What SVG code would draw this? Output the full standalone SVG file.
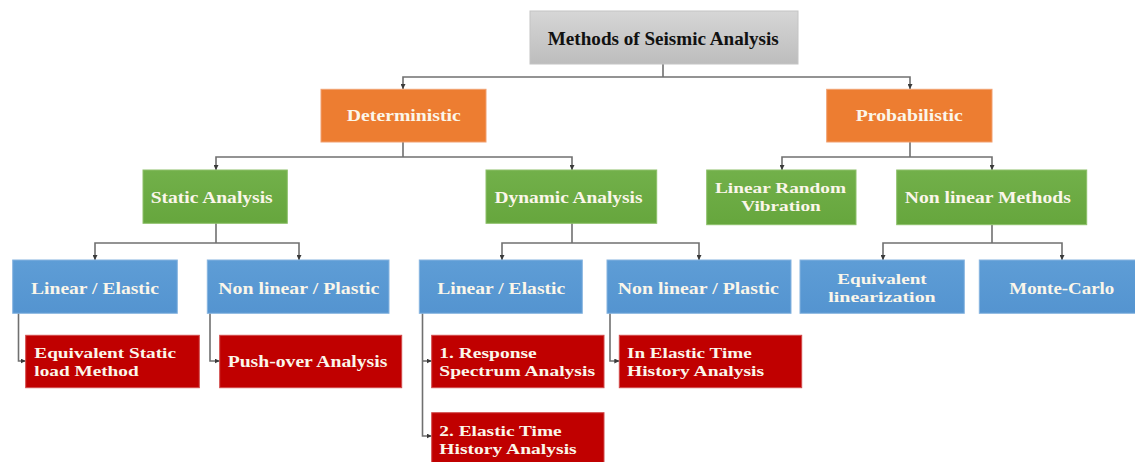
<svg xmlns="http://www.w3.org/2000/svg" width="1135" height="462" viewBox="0 0 1135 462">
<defs>
<linearGradient id="gGray" x1="0" y1="0" x2="0" y2="1"><stop offset="0" stop-color="#d6d6d6"/><stop offset="1" stop-color="#bdbdbd"/></linearGradient>
<linearGradient id="gGreen" x1="0" y1="0" x2="0" y2="1"><stop offset="0" stop-color="#72b04a"/><stop offset="1" stop-color="#66a63d"/></linearGradient>
<linearGradient id="gBlue" x1="0" y1="0" x2="0" y2="1"><stop offset="0" stop-color="#5e9dd6"/><stop offset="1" stop-color="#5494d0"/></linearGradient>
<marker id="arr" viewBox="0 0 10 10" refX="10" refY="5" markerWidth="5" markerHeight="5" markerUnits="userSpaceOnUse" orient="auto"><path d="M0 0 L10 5 L0 10 z" fill="#3a3a3a"/></marker>
</defs>
<style>
.root{fill:url(#gGray);stroke:#c4c4c4;stroke-width:1}
.orange{fill:#ed7d31;stroke:#f1a070;stroke-width:1}
.green{fill:url(#gGreen);stroke:#8dc06a;stroke-width:1}
.blue{fill:url(#gBlue);stroke:#86b4e0;stroke-width:1}
.red{fill:#c00000;stroke:#d24a4a;stroke-width:1}
text{font-family:"Liberation Serif","Times New Roman",serif;font-weight:bold;font-size:16.5px;fill:#fbf6ea}
text.m{font-size:15.5px}
.c{text-anchor:middle}
.rt{font-size:19px;fill:#111111}
.conn path{fill:none;stroke:#707070;stroke-width:1.6}
.conn path.a{marker-end:url(#arr)}
</style>
<rect width="1135" height="462" fill="#ffffff"/>
<g class="conn">
<path d="M663 64 V77"/>
<path class="a" d="M663 77 H403 V89"/>
<path class="a" d="M663 77 H910 V89"/>
<path d="M403 142 V157"/>
<path class="a" d="M403 157 H216 V170"/>
<path class="a" d="M403 157 H572 V170"/>
<path d="M910 142 V157"/>
<path class="a" d="M910 157 H782 V170"/>
<path class="a" d="M910 157 H992 V170"/>
<path d="M216 223 V243"/>
<path class="a" d="M216 243 H95 V260"/>
<path class="a" d="M216 243 H299 V260"/>
<path d="M572 223 V243"/>
<path class="a" d="M572 243 H502 V260"/>
<path class="a" d="M572 243 H699 V260"/>
<path d="M992 225 V243"/>
<path class="a" d="M992 243 H883 V260"/>
<path class="a" d="M992 243 H1062 V260"/>
<path class="a" d="M18.5 313 V361 H25.7"/>
<path class="a" d="M210 313 V361 H219.7"/>
<path class="a" d="M422.5 313 V436 H431.7"/>
<path class="a" d="M422.5 361 H431.7"/>
<path class="a" d="M610 313 V361 H619.3"/>
</g>
<g id="n-root"><rect class="root" x="530" y="11" width="268" height="53"/><text class="c rt" x="663.3" y="44.5" textLength="231" lengthAdjust="spacingAndGlyphs">Methods of Seismic Analysis</text></g>
<g id="n-deterministic"><rect class="orange" x="321" y="89.3" width="165" height="52.7"/><text class="c" x="403.8" y="121" textLength="114" lengthAdjust="spacingAndGlyphs">Deterministic</text></g>
<g id="n-probabilistic"><rect class="orange" x="826.7" y="89.3" width="165.3" height="52.7"/><text class="c" x="909.3" y="121" textLength="107" lengthAdjust="spacingAndGlyphs">Probabilistic</text></g>
<g id="n-static"><rect class="green" x="143" y="170" width="144.3" height="53.3"/><text class="c" x="211.7" y="203" textLength="122" lengthAdjust="spacingAndGlyphs">Static Analysis</text></g>
<g id="n-dynamic"><rect class="green" x="486" y="170" width="170.7" height="53.3"/><text class="c" x="568.5" y="203" textLength="148" lengthAdjust="spacingAndGlyphs">Dynamic Analysis</text></g>
<g id="n-lrv"><rect class="green" x="706.7" y="170" width="149.3" height="54.7"/><text class="c m" x="780.5" y="193" textLength="131" lengthAdjust="spacingAndGlyphs">Linear Random</text><text class="c m" x="781" y="211" textLength="79.5" lengthAdjust="spacingAndGlyphs">Vibration</text></g>
<g id="n-nlm"><rect class="green" x="896.7" y="170" width="190" height="54.7"/><text class="c" x="987.8" y="203" textLength="166" lengthAdjust="spacingAndGlyphs">Non linear Methods</text></g>
<g id="n-sle"><rect class="blue" x="12.7" y="260" width="164.6" height="53.3"/><text class="c" x="95" y="293.5" textLength="128" lengthAdjust="spacingAndGlyphs">Linear / Elastic</text></g>
<g id="n-snp"><rect class="blue" x="207.3" y="260" width="181.7" height="53.3"/><text class="c" x="298.8" y="293.5" textLength="161" lengthAdjust="spacingAndGlyphs">Non linear / Plastic</text></g>
<g id="n-dle"><rect class="blue" x="419.3" y="260" width="163" height="53.3"/><text class="c" x="501.2" y="293.5" textLength="128" lengthAdjust="spacingAndGlyphs">Linear / Elastic</text></g>
<g id="n-dnp"><rect class="blue" x="607" y="260" width="184" height="53.3"/><text class="c" x="698.3" y="293.5" textLength="161" lengthAdjust="spacingAndGlyphs">Non linear / Plastic</text></g>
<g id="n-el"><rect class="blue" x="800" y="260" width="164.3" height="53.3"/><text class="c m" x="882" y="284" textLength="89.4" lengthAdjust="spacingAndGlyphs">Equivalent</text><text class="c m" x="882" y="302" textLength="107.4" lengthAdjust="spacingAndGlyphs">linearization</text></g>
<g id="n-mc"><rect class="blue" x="979.3" y="260" width="160" height="53.3"/><text class="c" x="1061.8" y="293.5" textLength="105" lengthAdjust="spacingAndGlyphs">Monte-Carlo</text></g>
<g id="n-eslm"><rect class="red" x="25.7" y="335.3" width="173.6" height="52.4"/><text class="m" x="34.3" y="357.5" textLength="141.7" lengthAdjust="spacingAndGlyphs">Equivalent Static</text><text class="m" x="34.3" y="375.5" textLength="104.4" lengthAdjust="spacingAndGlyphs">load Method</text></g>
<g id="n-push"><rect class="red" x="219.7" y="335.3" width="182" height="52.4"/><text x="227.7" y="367" textLength="159.6" lengthAdjust="spacingAndGlyphs">Push-over Analysis</text></g>
<g id="n-rsa"><rect class="red" x="431.7" y="335.3" width="172.3" height="52.4"/><text class="m" x="439.3" y="357.5" textLength="97.4" lengthAdjust="spacingAndGlyphs">1. Response</text><text class="m" x="439.3" y="375.5" textLength="155.7" lengthAdjust="spacingAndGlyphs">Spectrum Analysis</text></g>
<g id="n-ieth"><rect class="red" x="619.3" y="335.3" width="182.4" height="52.4"/><text class="m" x="627" y="357.5" textLength="124.7" lengthAdjust="spacingAndGlyphs">In Elastic Time</text><text class="m" x="627" y="375.5" textLength="137" lengthAdjust="spacingAndGlyphs">History Analysis</text></g>
<g id="n-eth"><rect class="red" x="431.7" y="412.7" width="172.3" height="55"/><text class="m" x="439.3" y="435.5" textLength="122.4" lengthAdjust="spacingAndGlyphs">2. Elastic Time</text><text class="m" x="439.3" y="453.5" textLength="137.4" lengthAdjust="spacingAndGlyphs">History Analysis</text></g>
</svg>
